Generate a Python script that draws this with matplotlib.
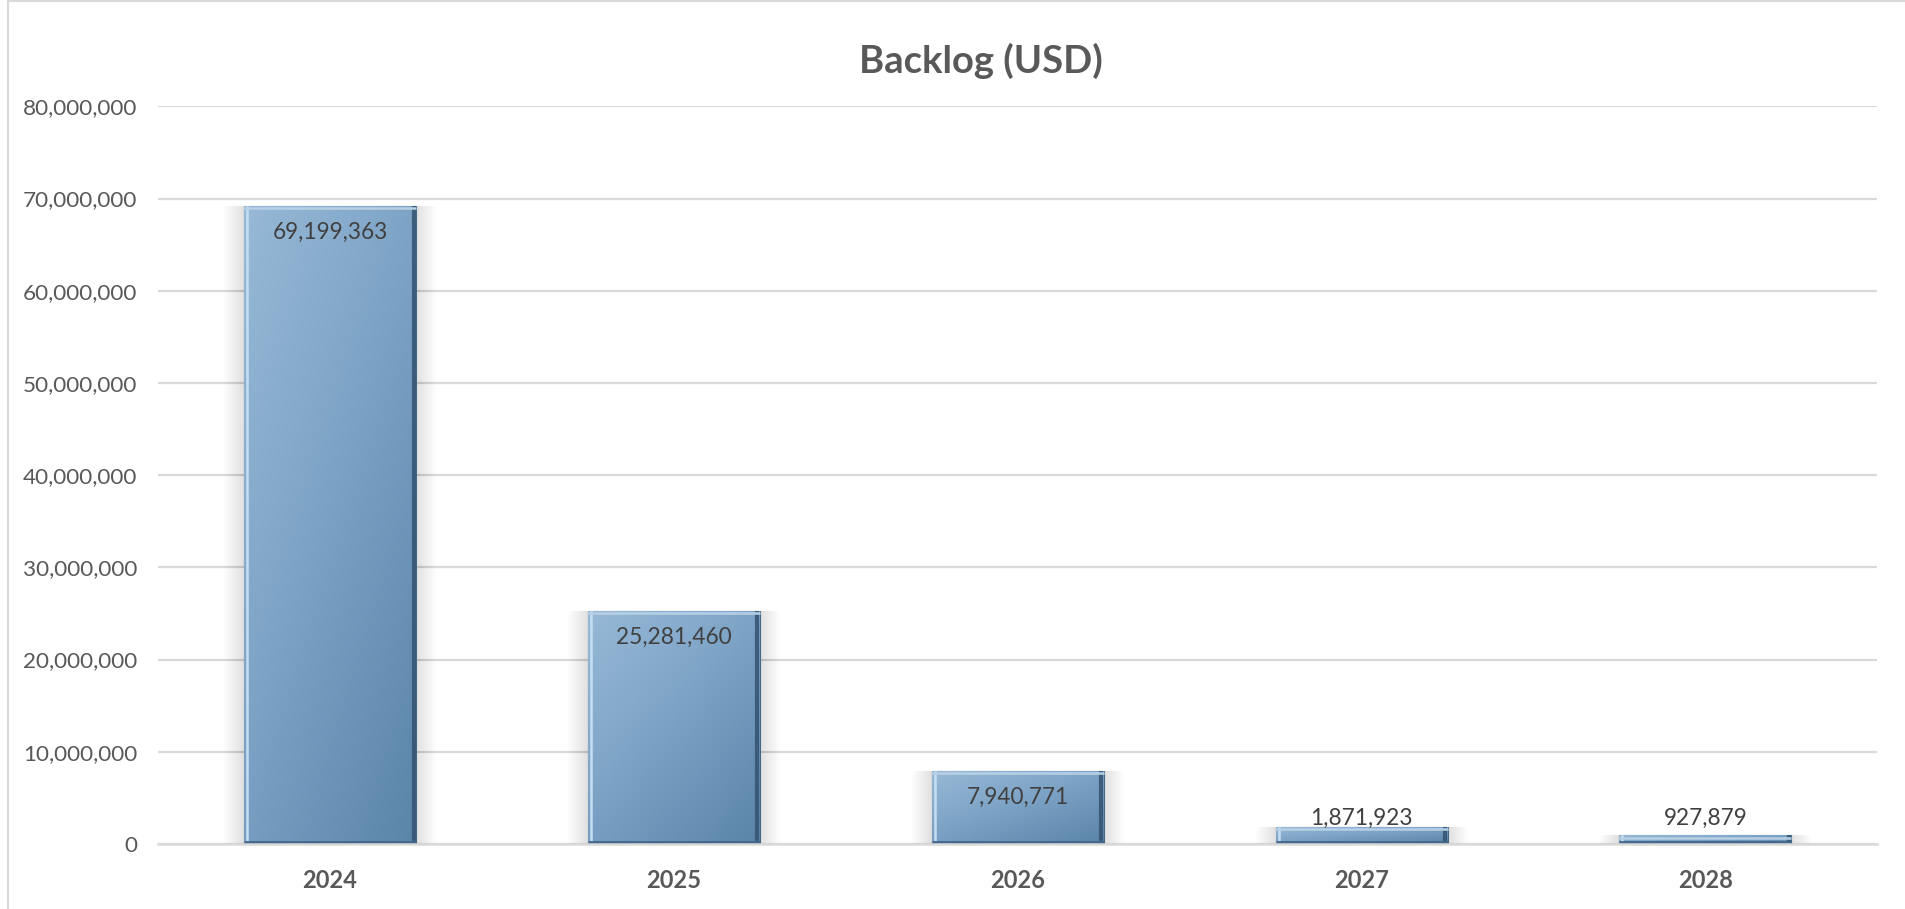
import numpy as np
import matplotlib.pyplot as plt
from matplotlib.patches import Rectangle
from matplotlib.ticker import FuncFormatter, MultipleLocator
import matplotlib.transforms as mtransforms

plt.rcParams['font.family'] = ['Lato', 'DejaVu Sans']

# data
years = ['2024', '2025', '2026', '2027', '2028']
backlog = [69199363, 25281460, 7940771, 1871923, 927879]

text_col = '#595959'
grid_col = '#d9d9d9'

fig = plt.figure(figsize=(19.05, 9.09), dpi=100)
ax = fig.add_axes([0.083, 0.0715, 0.9025, 0.8115])

x = np.arange(len(years))
bars = ax.bar(x, backlog, width=0.5, color='none', edgecolor='#46698a', linewidth=0.8, zorder=3)

# diagonal gradient for the bar fill
gy, gx = np.mgrid[0:1:200j, 0:1:200j]
grad = gx * 0.45 + gy * 0.55
cmap = plt.matplotlib.colors.LinearSegmentedColormap.from_list('bl', ['#98b9d7', '#7aa1c4', '#5a84a8'])

tr = ax.transData
for b in bars:
    x0, w, h = b.get_x(), b.get_width(), b.get_height()
    # soft shadow on both sides
    for k in range(10):
        off = (k + 1) * 2
        for sgn in (-1, 1):
            sh = Rectangle((x0, 0), w, h, facecolor='black', edgecolor='none', alpha=0.01, zorder=2)
            ax.add_patch(sh)
            sh.set_transform(tr + mtransforms.Affine2D().translate(sgn * off, 0))
    im = ax.imshow(grad, extent=(x0, x0 + w, 0, h), origin='upper', cmap=cmap,
                   aspect='auto', zorder=3, interpolation='bilinear')
    im.set_clip_path(b)
    # bevel edges
    ax.plot([x0, x0], [0, h], color='#c6def2', lw=1.8,
            transform=tr + mtransforms.Affine2D().translate(3, 0), zorder=4, solid_capstyle='butt')
    ax.plot([x0 + w, x0 + w], [0, h], color='#365673', lw=3,
            transform=tr + mtransforms.Affine2D().translate(-2.5, 0), zorder=4, solid_capstyle='butt', alpha=0.9)
    ax.plot([x0, x0 + w], [h, h], color='#b7d0e6', lw=1.8,
            transform=tr + mtransforms.Affine2D().translate(0, -2.5), zorder=4, solid_capstyle='butt')
    ax.plot([x0, x0 + w], [0, 0], color='#44678a', lw=2,
            transform=tr + mtransforms.Affine2D().translate(0, 2.5), zorder=4, solid_capstyle='butt')

ax.set_xlim(-0.5, len(years) - 0.5)
ax.set_ylim(0, 80000000)
ax.yaxis.set_major_locator(MultipleLocator(10000000))
ax.yaxis.set_major_formatter(FuncFormatter(lambda v, p: f'{int(v):,}'))
ax.set_xticks(x)
ax.set_xticklabels(years, fontweight='bold')
ax.tick_params(axis='both', length=0, labelsize=16.2, labelcolor=text_col)
ax.tick_params(axis='x', pad=18, labelsize=17)
ax.tick_params(axis='y', pad=15)
ax.grid(axis='y', color=grid_col, lw=1.6, zorder=0)
ax.set_axisbelow(True)
for s in ['top', 'right', 'left']:
    ax.spines[s].set_visible(False)
ax.spines['bottom'].set_color(grid_col)
ax.spines['bottom'].set_linewidth(1.8)
ax.spines['bottom'].set_zorder(5)

# data labels: inside end, kept above the axis for short bars
for xi, v in zip(x, backlog):
    ly = max(v - 2900000, 2760000)
    ax.text(xi, ly, f'{v:,}', ha='center', va='center', fontsize=16.3, color='#404040', zorder=6)

fig.text(0.515, 0.933, 'Backlog (USD)', ha='center', va='center', fontsize=27.5,
         fontweight='bold', color=text_col)

# chart area border
fig.patches.append(Rectangle((0.004, -0.01), 1.1, 1.0085, transform=fig.transFigure,
                             facecolor='none', edgecolor='#d9d9d9', lw=1.5))

fig.savefig('out.png', dpi=100)
